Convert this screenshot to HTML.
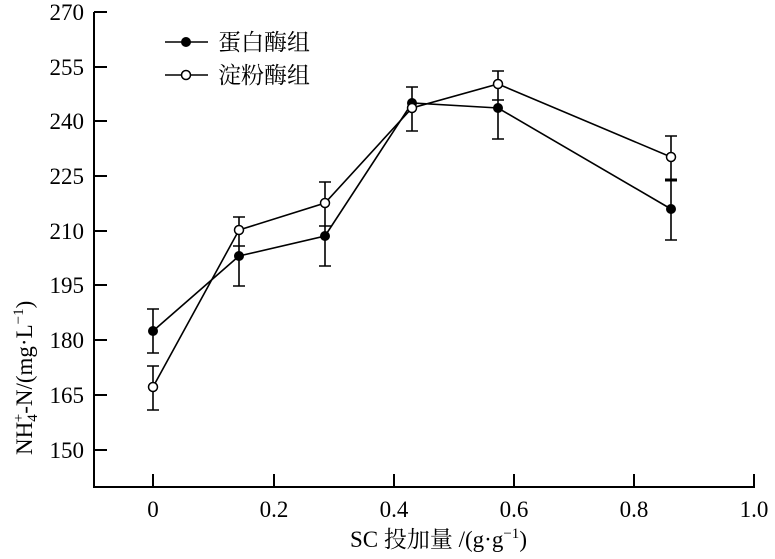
<!DOCTYPE html>
<html><head><meta charset="utf-8"><style>
body{margin:0;background:#fff}
text{font-family:"Liberation Serif","Noto Serif CJK SC",serif;fill:#000}
</style></head><body>
<svg width="775" height="554" viewBox="0 0 775 554" xmlns="http://www.w3.org/2000/svg">
<g stroke="#000" stroke-width="2" fill="none">
<path d="M94 12V487H755"/>
<path d="M94 12H107M94 67H107M94 121H107M94 176H107M94 231H107M94 285H107M94 340H107M94 395H107M94 450H107"/>
<path d="M153 487V474M274 487V474M394 487V474M514 487V474M634 487V474M754 487V474"/>
</g>
<g font-size="23" text-anchor="end">
<text x="84" y="20">270</text><text x="84" y="75">255</text><text x="84" y="129">240</text><text x="84" y="184">225</text><text x="84" y="239">210</text><text x="84" y="293">195</text><text x="84" y="348">180</text><text x="84" y="403">165</text><text x="84" y="458">150</text>
</g>
<g font-size="23" text-anchor="middle">
<text x="153" y="517">0</text><text x="274" y="517">0.2</text><text x="394" y="517">0.4</text><text x="514" y="517">0.6</text><text x="634" y="517">0.8</text><text x="754" y="517">1.0</text>
</g>
<text font-size="23" x="350" y="547">SC 投加量 /(g·g<tspan font-size="15" dy="-9">−1</tspan><tspan dy="9">)</tspan></text>
<text font-size="23" transform="translate(32,455) rotate(-90)">NH<tspan font-size="15" dy="5">4</tspan><tspan font-size="15" dx="-8" dy="-14">+</tspan><tspan dy="9">-N/(mg·L</tspan><tspan font-size="15" dy="-9">−1</tspan><tspan dy="9">)</tspan></text>
<g stroke="#000" stroke-width="1.6" fill="none">
<path d="M153 331L239 256L325 236L412 103L498 108L671 209"/>
<path d="M153 387L239 230L325 203L412 108L498 84L671 157"/>
<path d="M153 309V353M147 309H159M147 353H159"/>
<path d="M239 246V286M233 246H245M233 286H245"/>
<path d="M325 226V266M319 226H331M319 266H331"/>
<path d="M412 87V108M406 87H418"/>
<path d="M498 100V139M492 100H504M492 139H504"/>
<path d="M671 180V240M665 240H677"/>
<path d="M665 180H677" stroke-width="3"/>
<path d="M153 366V410M147 366H159M147 410H159"/>
<path d="M239 217V246M233 217H245"/>
<path d="M325 182V226M319 182H331"/>
<path d="M412 108V131M406 131H418"/>
<path d="M498 71V100M492 71H504"/>
<path d="M671 136V180M665 136H677"/>
<path d="M165 42H208M165 75H208"/>
</g>
<g fill="#000">
<circle cx="153" cy="331" r="5"/><circle cx="239" cy="256" r="5"/><circle cx="325" cy="236" r="5"/><circle cx="412" cy="103" r="5"/><circle cx="498" cy="108" r="5"/><circle cx="671" cy="209" r="5"/>
<circle cx="186" cy="42" r="5"/>
</g>
<g fill="#fff" stroke="#000" stroke-width="1.5">
<circle cx="153" cy="387" r="4.5"/><circle cx="239" cy="230" r="4.5"/><circle cx="325" cy="203" r="4.5"/><circle cx="412" cy="108" r="4.5"/><circle cx="498" cy="84" r="4.5"/><circle cx="671" cy="157" r="4.5"/>
<circle cx="186" cy="75" r="4.5"/>
</g>
<g font-size="23">
<text x="218" y="50">蛋白酶组</text>
<text x="218" y="83">淀粉酶组</text>
</g>
</svg>
</body></html>
